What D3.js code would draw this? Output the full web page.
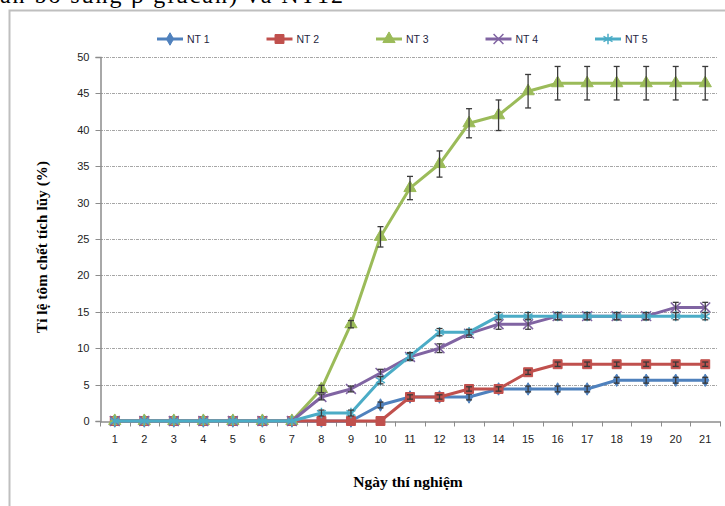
<!DOCTYPE html>
<html>
<head>
<meta charset="utf-8">
<script src="https://cdn.jsdelivr.net/npm/d3@7"></script>
<style>
  body { margin: 0; background: #fff; }
  svg { display: block; }
  .tick text { font-family: "Liberation Sans", Arial, sans-serif; font-size: 11px; fill: #222; }
</style>
</head>
<body>
<div id="chart"></div>
<script>
// days on the x axis
var days = d3.range(1, 22).map(String);

// cumulative mortality (%) per treatment
var nt1 = [0, 0, 0, 0, 0, 0, 0, 0, 0, 2.2, 3.3, 3.3, 3.3, 4.4, 4.4, 4.4, 4.4, 5.6, 5.6, 5.6, 5.6];
var nt2 = [0, 0, 0, 0, 0, 0, 0, 0, 0, 0, 3.3, 3.3, 4.4, 4.4, 6.7, 7.8, 7.8, 7.8, 7.8, 7.8, 7.8];
var nt3 = [0, 0, 0, 0, 0, 0, 0, 4.4, 13.3, 25.3, 32.0, 35.3, 40.9, 42.0, 45.3, 46.4, 46.4, 46.4, 46.4, 46.4, 46.4];
var nt4 = [0, 0, 0, 0, 0, 0, 0, 3.3, 4.4, 6.6, 8.8, 10.0, 12.0, 13.3, 13.3, 14.4, 14.4, 14.4, 14.4, 15.6, 15.6];
var nt5 = [0, 0, 0, 0, 0, 0, 0, 1.1, 1.1, 5.6, 8.9, 12.2, 12.2, 14.4, 14.4, 14.4, 14.4, 14.4, 14.4, 14.4, 14.4];

// error bar half-lengths
var err1 = [0, 0, 0, 0, 0, 0, 0, 0, 0, 0.4, 0.4, 0.4, 0.4, 0.4, 0.4, 0.4, 0.4, 0.4, 0.4, 0.4, 0.4];
var err2 = [0, 0, 0, 0, 0, 0, 0, 0, 0, 0, 0.3, 0.3, 0.3, 0.3, 0.3, 0.3, 0.3, 0.3, 0.3, 0.3, 0.3];
var err3 = [0, 0, 0, 0, 0, 0, 0, 0.5, 0.5, 1.4, 1.6, 1.8, 2.0, 2.1, 2.3, 2.3, 2.3, 2.3, 2.3, 2.3, 2.3];
var err4 = [0, 0, 0, 0, 0, 0, 0, 0.4, 0.4, 0.5, 0.5, 0.6, 0.5, 0.7, 0.7, 0.5, 0.5, 0.5, 0.5, 0.7, 0.7];
var err5 = [0, 0, 0, 0, 0, 0, 0, 0.4, 0.4, 0.5, 0.5, 0.5, 0.4, 0.5, 0.5, 0.5, 0.5, 0.5, 0.5, 0.5, 0.5];

var seriesNames = ["NT 1", "NT 2", "NT 3", "NT 4", "NT 5"];
var yTicks = d3.range(0, 51, 5);

var series = [
  { name: seriesNames[0], values: nt1, err: err1, color: "#4F81BD", symbol: d3.symbolDiamond, size: 45, stroke: false },
  { name: seriesNames[1], values: nt2, err: err2, color: "#C0504D", symbol: d3.symbolSquare, size: 80, stroke: false },
  { name: seriesNames[2], values: nt3, err: err3, color: "#9BBB59", symbol: d3.symbolTriangle, size: 65, stroke: false },
  { name: seriesNames[3], values: nt4, err: err4, color: "#8064A2", symbol: d3.symbolTimes, size: 65, stroke: true },
  { name: seriesNames[4], values: nt5, err: err5, color: "#4BACC6", symbol: d3.symbolAsterisk, size: 75, stroke: true }
];

var svgWidth = 725;
var svgHeight = 506;
var margin = { top: 57, right: 5, bottom: 85, left: 100 };
var width = 620;
var height = 364;

var svg = d3.select("#chart")
  .append("svg")
  .attr("width", svgWidth)
  .attr("height", svgHeight);

// cut-off line of document text above the chart
svg.append("text")
  .attr("x", 0)
  .attr("y", 3)
  .attr("font-family", "Liberation Serif, serif")
  .attr("font-size", 24)
  .attr("textLength", 343)
  .attr("lengthAdjust", "spacing")
  .attr("fill", "#000")
  .text("ăn bổ sung β glucan) và NT12");

// chart frame (left and top edges visible)
svg.append("path")
  .attr("d", "M9.5,506 V10.5 H725")
  .attr("fill", "none")
  .attr("stroke", "#bfbfbf")
  .attr("stroke-width", 2);

var chartGroup = svg.append("g")
  .attr("transform", `translate(${margin.left}, ${margin.top})`);

var x = d3.scaleBand().domain(days).range([0, width]).padding(0);
var y = d3.scaleLinear().domain([0, 50]).range([height, 0]);

// gridlines
chartGroup.append("g")
  .selectAll("line")
  .data(yTicks.filter(d => d > 0))
  .enter()
  .append("line")
  .attr("x1", 0)
  .attr("x2", width - 3)
  .attr("y1", d => Math.round(y(d)) + 0.5)
  .attr("y2", d => Math.round(y(d)) + 0.5)
  .attr("stroke", "#a6a6a6")
  .attr("stroke-width", 1)
  .attr("stroke-dasharray", "3,1,1,1");

// y axis
var leftAxis = d3.axisLeft(y).tickValues(yTicks).tickSize(5).tickPadding(6);
var yAxisG = chartGroup.append("g").attr("transform", "translate(0.5,0)").call(leftAxis);
yAxisG.select(".domain").attr("stroke", "#8c8c8c").attr("stroke-width", 1.5);
yAxisG.selectAll(".tick line").attr("stroke", "#8c8c8c");
yAxisG.selectAll(".tick").attr("transform", d => `translate(0,${Math.round(y(d)) + 0.5})`);

// x axis, ticks between categories
var bottomAxis = d3.axisBottom(x).tickSize(0).tickPadding(14);
var xAxisG = chartGroup.append("g").attr("transform", `translate(0, ${height + 0.5})`).call(bottomAxis);
xAxisG.select(".domain").attr("stroke", "#8c8c8c").attr("stroke-width", 1.5);
xAxisG.append("g")
  .selectAll("line")
  .data(d3.range(0, days.length + 1))
  .enter()
  .append("line")
  .attr("x1", i => Math.round(i * x.step()) + 0.5)
  .attr("x2", i => Math.round(i * x.step()) + 0.5)
  .attr("y1", 0)
  .attr("y2", 5)
  .attr("stroke", "#8c8c8c");

var cx = (d, i) => x(days[i]) + x.bandwidth() / 2;

var line = d3.line()
  .x((d, i) => cx(d, i))
  .y(d => y(d));

series.forEach(function(s) {
  var g = chartGroup.append("g");

  g.append("path")
    .datum(s.values)
    .attr("d", line)
    .attr("fill", "none")
    .attr("stroke", s.color)
    .attr("stroke-width", 3)
    .attr("stroke-linejoin", "round");

  var sym = d3.symbol().type(s.symbol).size(s.size);
  g.selectAll("path.mark")
    .data(s.values)
    .enter()
    .append("path")
    .attr("class", "mark")
    .attr("d", sym)
    .attr("transform", (d, i) => `translate(${cx(d, i)},${y(d)})`)
    .attr("fill", s.stroke ? "none" : s.color)
    .attr("stroke", s.color)
    .attr("stroke-width", s.stroke ? 1.5 : 1);

  // error bars
  var eb = g.selectAll("g.err")
    .data(s.values.map((v, i) => ({ v: v, e: s.err[i], i: i })).filter(d => d.e > 0))
    .enter()
    .append("g")
    .attr("class", "err")
    .attr("stroke", "#3a3a3a")
    .attr("stroke-width", 1.3);
  eb.append("line")
    .attr("x1", d => cx(d.v, d.i)).attr("x2", d => cx(d.v, d.i))
    .attr("y1", d => y(d.v + d.e)).attr("y2", d => y(d.v - d.e));
  eb.append("line")
    .attr("x1", d => cx(d.v, d.i) - 3).attr("x2", d => cx(d.v, d.i) + 3)
    .attr("y1", d => y(d.v + d.e)).attr("y2", d => y(d.v + d.e));
  eb.append("line")
    .attr("x1", d => cx(d.v, d.i) - 3).attr("x2", d => cx(d.v, d.i) + 3)
    .attr("y1", d => y(d.v - d.e)).attr("y2", d => y(d.v - d.e));
});

// legend
var legend = svg.append("g").attr("transform", "translate(157, 39)");
series.forEach(function(s, i) {
  var lg = legend.append("g").attr("transform", `translate(${i * 109.5}, 0)`);
  lg.append("line")
    .attr("x1", 0).attr("x2", 26).attr("y1", 0).attr("y2", 0)
    .attr("stroke", s.color).attr("stroke-width", 3);
  lg.append("path")
    .attr("d", d3.symbol().type(s.symbol).size(s.size)())
    .attr("transform", "translate(13,0)")
    .attr("fill", s.stroke ? "none" : s.color)
    .attr("stroke", s.color)
    .attr("stroke-width", s.stroke ? 1.5 : 1);
  lg.append("text")
    .attr("x", 30)
    .attr("y", 4)
    .attr("font-family", "Liberation Sans, Arial, sans-serif")
    .attr("font-size", 10.5)
    .attr("fill", "#1f1f3f")
    .text(s.name);
});

// axis titles
svg.append("text")
  .attr("transform", "translate(47, 247) rotate(-90)")
  .attr("text-anchor", "middle")
  .attr("font-family", "Liberation Serif, serif")
  .attr("font-weight", "bold")
  .attr("font-size", 15)
  .attr("textLength", 172)
  .attr("lengthAdjust", "spacing")
  .text("Tỉ lệ tôm chết tích lũy (%)");

svg.append("text")
  .attr("x", 408)
  .attr("y", 487)
  .attr("text-anchor", "middle")
  .attr("font-family", "Liberation Serif, serif")
  .attr("font-weight", "bold")
  .attr("font-size", 15.5)
  .text("Ngày thí nghiệm");
</script>
</body>
</html>
